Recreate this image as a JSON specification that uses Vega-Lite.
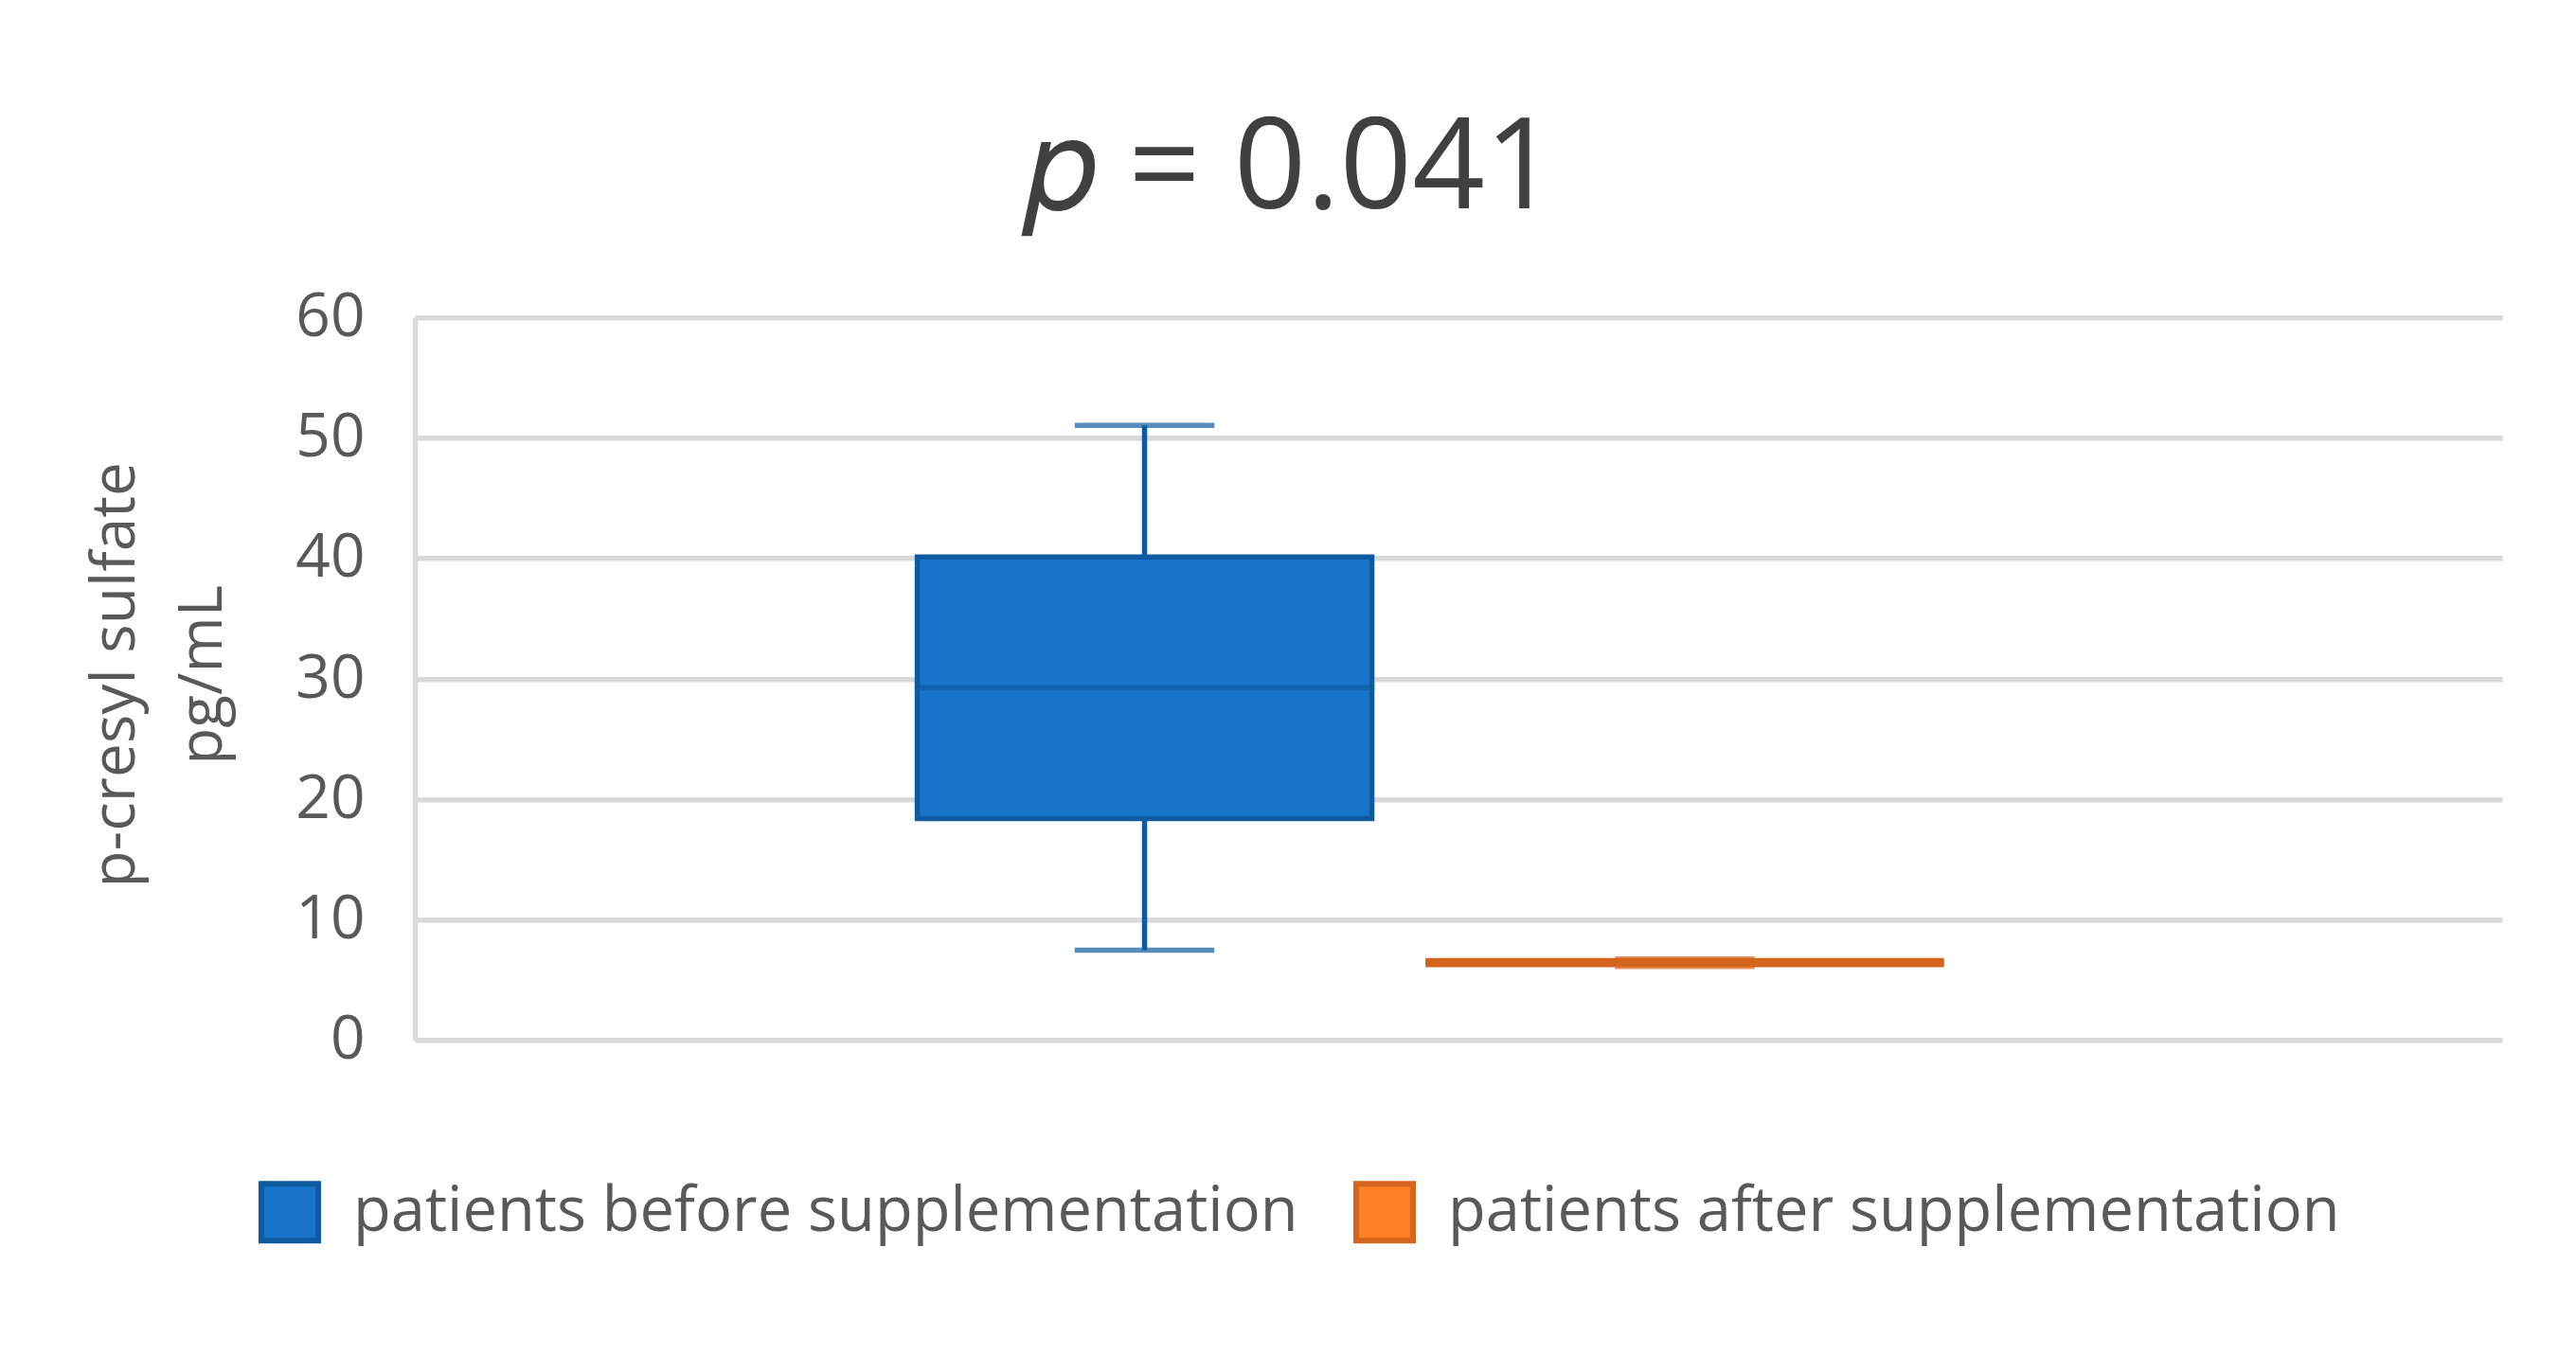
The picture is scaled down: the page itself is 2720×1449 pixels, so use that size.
{
  "$schema": "https://vega.github.io/schema/vega-lite/v6.json",
  "autosize": {"type": "none"},
  "width": 2204,
  "height": 763.4,
  "padding": {"left": 438, "top": 335.3, "right": 78, "bottom": 350.3},
  "background": "white",
  "title": {
    "text": "𝑝 = 0.041",
    "font": "Open Sans",
    "fontSize": 134,
    "fontWeight": "normal",
    "color": "#404040",
    "anchor": "middle",
    "frame": "group",
    "dx": -177,
    "baseline": "alphabetic",
    "offset": -51
  },
  "data": {
    "values": [
      {"group": "patients before supplementation", "min": 7.48, "q1": 18.4, "median": 29.28, "q3": 40.12, "max": 51.04},
      {"group": "patients after supplementation", "min": 6.12, "q1": 6.28, "median": 6.44, "q3": 6.61, "max": 6.76}
    ]
  },
  "encoding": {
    "x": {
      "field": "group",
      "type": "nominal",
      "scale": {
        "domain": ["patients before supplementation", "patients after supplementation"],
        "paddingInner": 0,
        "paddingOuter": 0.932,
        "align": 0.4565
      },
      "axis": null
    },
    "stroke": {
      "field": "group",
      "type": "nominal",
      "scale": {
        "domain": ["patients before supplementation", "patients after supplementation"],
        "range": ["#0F5BA1", "#D4651C"]
      },
      "legend": {"title": null}
    }
  },
  "layer": [
    {
      "mark": {"type": "rule", "strokeWidth": 5.5},
      "encoding": {
        "y": {
          "field": "min",
          "type": "quantitative",
          "title": ["p-cresyl sulfate", "pg/mL"],
          "scale": {"domain": [0, 60], "nice": false},
          "axis": {"values": [0, 10, 20, 30, 40, 50, 60]}
        },
        "y2": {"field": "max"}
      }
    },
    {
      "transform": [{"filter": "datum.group === 'patients before supplementation'"}],
      "mark": {"type": "bar", "strokeWidth": 5.5, "size": 480},
      "encoding": {
        "y": {"field": "q1", "type": "quantitative", "title": ["p-cresyl sulfate", "pg/mL"], "axis": {"values": [0, 10, 20, 30, 40, 50, 60]}},
        "y2": {"field": "q3"},
        "fill": {
          "field": "group",
          "type": "nominal",
          "scale": {
            "domain": ["patients before supplementation", "patients after supplementation"],
            "range": ["#1874CA", "#FE7F25"]
          },
          "legend": {"title": null}
        }
      }
    },
    {
      "transform": [{"filter": "datum.group === 'patients after supplementation'"}],
      "mark": {"type": "bar", "strokeWidth": 5.5, "size": 542},
      "encoding": {
        "y": {"field": "q1", "type": "quantitative", "title": ["p-cresyl sulfate", "pg/mL"], "axis": {"values": [0, 10, 20, 30, 40, 50, 60]}},
        "y2": {"field": "q3"},
        "fill": {"field": "group", "type": "nominal", "legend": {"title": null}}
      }
    },
    {
      "transform": [{"filter": "datum.group === 'patients before supplementation'"}],
      "mark": {"type": "tick", "filled": false, "size": 480, "thickness": 0.01, "strokeWidth": 5.5},
      "encoding": {
        "y": {"field": "median", "type": "quantitative", "title": ["p-cresyl sulfate", "pg/mL"], "axis": {"values": [0, 10, 20, 30, 40, 50, 60]}}
      }
    },
    {
      "transform": [{"filter": "datum.group === 'patients after supplementation'"}],
      "mark": {"type": "tick", "filled": false, "size": 542, "thickness": 0.01, "strokeWidth": 5.5},
      "encoding": {
        "y": {"field": "median", "type": "quantitative", "title": ["p-cresyl sulfate", "pg/mL"], "axis": {"values": [0, 10, 20, 30, 40, 50, 60]}}
      }
    },
    {
      "mark": {"type": "tick", "filled": false, "size": 142, "thickness": 0.01, "strokeWidth": 5.5},
      "encoding": {
        "y": {"field": "min", "type": "quantitative", "title": ["p-cresyl sulfate", "pg/mL"], "axis": {"values": [0, 10, 20, 30, 40, 50, 60]}}
      }
    },
    {
      "mark": {"type": "tick", "filled": false, "size": 142, "thickness": 0.01, "strokeWidth": 5.5},
      "encoding": {
        "y": {"field": "max", "type": "quantitative", "title": ["p-cresyl sulfate", "pg/mL"], "axis": {"values": [0, 10, 20, 30, 40, 50, 60]}}
      }
    }
  ],
  "config": {
    "view": {"stroke": null},
    "axisY": {
      "domainColor": "#D9D9D9",
      "domainWidth": 5.5,
      "gridColor": "#D9D9D9",
      "gridWidth": 5.5,
      "ticks": false,
      "labelFont": "Open Sans",
      "labelFontSize": 64,
      "labelColor": "#595959",
      "labelPadding": 53,
      "titleFont": "Open Sans",
      "titleFontSize": 64,
      "titleFontWeight": "normal",
      "titleColor": "#595959",
      "titleAngle": -90,
      "titleAlign": "center",
      "titleBaseline": "alphabetic",
      "titleX": -297,
      "titleY": 377,
      "titleLineHeight": 92
    },
    "legend": {
      "orient": "none",
      "legendX": -165,
      "legendY": 912,
      "direction": "horizontal",
      "columns": 2,
      "padding": 0,
      "symbolType": "square",
      "symbolSize": 3600,
      "symbolStrokeWidth": 6,
      "labelFont": "Open Sans",
      "labelFontSize": 65,
      "labelColor": "#595959",
      "labelOffset": 34,
      "columnPadding": 49,
      "labelLimit": 2000
    }
  }
}
